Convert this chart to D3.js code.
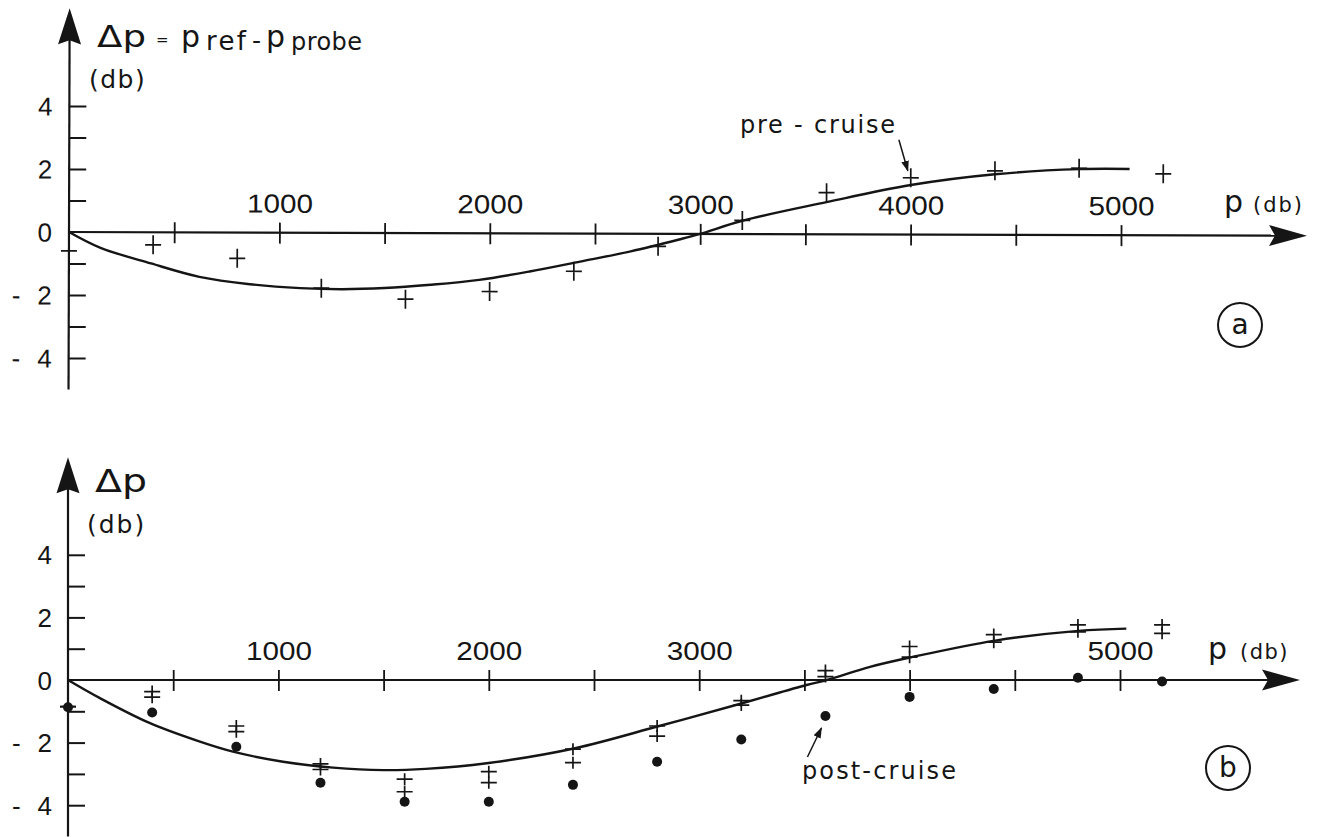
<!DOCTYPE html>
<html>
<head>
<meta charset="utf-8">
<script src="https://cdn.jsdelivr.net/npm/d3@7"></script>
<style>
  html, body { margin: 0; padding: 0; background: #ffffff; }
  svg { display: block; }
  text { font-family: "DejaVu Sans", "Liberation Sans", Arial, sans-serif; fill: #151515; }
  text.num { font-family: "Liberation Sans", Arial, Helvetica, sans-serif; }
</style>
</head>
<body>
<svg id="chart" width="1326" height="837"></svg>
<script>
// Pressure levels (db) of the comparison stations
const pressures = [0, 400, 800, 1200, 1600, 2000, 2400, 2800, 3200, 3600, 4000, 4400, 4800, 5200];

// (a) pre-cruise calibration: Δp = p_ref − p_probe (db)
const preCruise = [-0.6, -0.40, -0.82, -1.76, -2.10, -1.85, -1.20, -0.40, 0.43, 1.32, 1.80, 2.03, 2.12, 1.95];
// smooth fit drawn through (a)
const fitAPressure = [0, 150, 390, 620, 860, 1100, 1300, 1500, 1720, 1950, 2190, 2430, 2670, 2900, 3000, 3200, 3600, 4000, 4400, 4800, 5040];
const fitAValue    = [0, -0.50, -0.99, -1.41, -1.64, -1.76, -1.79, -1.75, -1.64, -1.48, -1.21, -0.89, -0.56, -0.18, 0, 0.42, 1.02, 1.57, 1.92, 2.09, 2.10];

// (b) two repeated crosses per level and the post-cruise dots
const crossUpperB = [-0.85, -0.37, -1.47, -2.68, -3.17, -2.93, -2.21, -1.47, -0.66, 0.30, 1.07, 1.45, 1.76, 1.76];
const crossLowerB = [-0.85, -0.55, -1.65, -2.86, -3.57, -3.28, -2.64, -1.79, -0.80, 0.11, 0.73, 1.21, 1.54, 1.49];
const postCruise  = [-0.87, -1.04, -2.13, -3.28, -3.89, -3.89, -3.35, -2.61, -1.90, -1.15, -0.54, -0.29, 0.07, -0.05];
// smooth fit drawn through (b)
const fitBPressure = [0, 152, 390, 627, 784, 1022, 1260, 1500, 1700, 1990, 2410, 2810, 3200, 3510, 3606, 3812, 4010, 4407, 4802, 5030];
const fitBValue    = [0, -0.58, -1.38, -1.97, -2.29, -2.61, -2.80, -2.88, -2.84, -2.66, -2.18, -1.47, -0.75, -0.16, 0, 0.42, 0.73, 1.26, 1.57, 1.64];

// Axis ticks and labels
const xTicks = [500, 1000, 1500, 2000, 2500, 3000, 3500, 4000, 4500, 5000];
const xLabelsA = [1000, 2000, 3000, 4000, 5000];
const xLabelsB = [1000, 2000, 3000, 5000];
const yTicks = [-4, -3, -2, -1, 1, 2, 3, 4];
const yLabels = [-4, -2, 0, 2, 4];

const INK = "#151515";
const svg = d3.select("#chart");

function drawPanel(cfg) {
  const g = svg.append("g").attr("transform", cfg.transform || null);
  const x = d3.scaleLinear().domain([0, 5000]).range([cfg.x0, cfg.x5000]);
  const y = d3.scaleLinear().domain([0, 4]).range([cfg.y0, cfg.y0 - 4 * cfg.unit]);
  const ox = x(0), oy = y(0);

  // vertical axis with arrow
  const tipY = y(cfg.yTop);
  g.append("line")
    .attr("x1", ox).attr("x2", ox).attr("y1", y(-5)).attr("y2", tipY + 20)
    .attr("stroke", INK).attr("stroke-width", 2.2);
  g.append("path")
    .attr("d", `M${ox},${tipY} L${ox + 11.5},${tipY + 36} L${ox},${tipY + 32} L${ox - 11.5},${tipY + 36} Z`)
    .attr("fill", INK);

  // horizontal axis with arrow
  const tipX = cfg.xTip;
  g.append("line")
    .attr("x1", ox).attr("x2", tipX - 20).attr("y1", oy).attr("y2", oy)
    .attr("stroke", INK).attr("stroke-width", 2.2);
  g.append("path")
    .attr("d", `M${tipX},${oy} L${tipX - 38},${oy - 10.5} L${tipX - 32},${oy} L${tipX - 38},${oy + 10.5} Z`)
    .attr("fill", INK);

  // y ticks (to the right of the axis)
  const yAx = g.append("g").attr("transform", `translate(${ox},0)`)
    .call(d3.axisRight(y).tickValues(yTicks).tickSize(17).tickFormat(""));
  yAx.select(".domain").remove();
  yAx.selectAll("line").attr("stroke", INK).attr("stroke-width", 2);

  // x ticks (crossing the axis)
  const xAx = g.append("g").attr("transform", `translate(0,${oy - 10})`)
    .call(d3.axisBottom(x).tickValues(xTicks).tickSize(21).tickFormat(""));
  xAx.select(".domain").remove();
  xAx.selectAll("line").attr("stroke", INK).attr("stroke-width", 1.8);

  // x tick labels
  const xLab = g.append("g").attr("transform", `translate(0,${oy})`)
    .call(d3.axisTop(x).tickValues(cfg.xLabels).tickSize(0).tickPadding(20).tickFormat(d3.format("d")));
  xLab.attr("font-size", null).attr("font-family", null);
  xLab.select(".domain").remove();
  xLab.selectAll("text")
    .attr("class", "num").attr("font-size", 26).attr("fill", INK)
    .attr("textLength", 66).attr("lengthAdjust", "spacingAndGlyphs");

  // y tick labels
  yLabels.forEach(v => {
    g.append("text").attr("class", "num").attr("x", 52).attr("y", y(v) + 9.5)
      .attr("text-anchor", "end").attr("font-size", 26).text(Math.abs(v));
    if (v < 0) {
      g.append("text").attr("class", "num").attr("x", 12).attr("y", y(v) + 9.5)
        .attr("font-size", 26).text("-");
    }
  });

  return { g, x, y };
}

function crosses(p, xs, vals, hw, hh) {
  p.g.append("g").selectAll("path").data(vals.map((v, i) => [xs[i], v]).filter(d => d[1] != null))
    .join("path")
    .attr("d", d => {
      const cx = p.x(d[0]), cy = p.y(d[1]);
      return `M${cx - hw},${cy} H${cx + hw} M${cx},${cy - hh} V${cy + hh}`;
    })
    .attr("stroke", INK).attr("stroke-width", 1.7).attr("fill", "none");
}

function fitCurve(p, ps, vs) {
  const line = d3.line().x(d => p.x(d[0])).y(d => p.y(d[1])).curve(d3.curveCatmullRom.alpha(0.5));
  p.g.append("path").datum(ps.map((q, i) => [q, vs[i]]))
    .attr("d", line).attr("fill", "none").attr("stroke", INK).attr("stroke-width", 2.4);
}

// ---------- panel (a) ----------
const A = drawPanel({ x0: 69, x5000: 1121, y0: 232, unit: 31.5, yTop: 7.1, xTip: 1307,
  xLabels: xLabelsA, transform: "rotate(0.17,69,232)" });
fitCurve(A, fitAPressure, fitAValue);
crosses(A, pressures, preCruise, 8, 9.5);

// ---------- panel (b) ----------
const B = drawPanel({ x0: 68, x5000: 1120, y0: 680, unit: 31.3, yTop: 7.12, xTip: 1300,
  xLabels: xLabelsB });
fitCurve(B, fitBPressure, fitBValue);
crosses(B, pressures, crossUpperB, 8, 6);
crosses(B, pressures, crossLowerB, 8, 6);
B.g.append("g").selectAll("circle").data(postCruise.map((v, i) => [pressures[i], v]))
  .join("circle")
  .attr("cx", d => B.x(d[0])).attr("cy", d => B.y(d[1])).attr("r", 5).attr("fill", INK);

// ---------- titles and axis names ----------
function label(x, y, size, str, len, adjust, anchor) {
  const t = svg.append("text").attr("x", x).attr("y", y).attr("font-size", size)
    .attr("text-anchor", anchor || "start").text(str);
  if (len) t.attr("textLength", len).attr("lengthAdjust", adjust || "spacing");
  return t;
}
// (a) y-axis title: Δp = p_ref − p_probe
label(97, 47, 31, "Δp", 49, "spacingAndGlyphs");
label(156, 45, 15, "=");
label(181, 47, 30, "p");
label(206, 50, 26, "ref", 40);
label(252, 49, 25, "-");
label(266, 47, 30, "p");
label(291, 50, 24, "probe", 71);
label(89, 88, 25, "(db)").attr("letter-spacing", 1.5);
// (b) y-axis title
label(95, 492, 32, "Δp", 52, "spacingAndGlyphs");
label(87, 533, 25, "(db)").attr("letter-spacing", 2);
// x-axis names
label(1224, 212, 30, "p");
label(1253, 212, 21, "(db)").attr("letter-spacing", 2);
label(1208, 659, 30, "p");
label(1240, 659, 21, "(db)").attr("letter-spacing", 1.5);

// arrowhead for annotation pointers
svg.append("defs").append("marker")
  .attr("id", "ah").attr("viewBox", "0 0 10 10").attr("refX", 9).attr("refY", 5)
  .attr("markerWidth", 11).attr("markerHeight", 11).attr("markerUnits", "userSpaceOnUse")
  .attr("orient", "auto")
  .append("path").attr("d", "M0,1.5 L10,5 L0,8.5 Z").attr("fill", INK);

// pre-cruise annotation
label(895, 133, 24, "pre - cruise", 155, "spacing", "end");
{
  const tx = A.x(4000) - 3, ty = A.y(preCruise[10]) - 7;
  A.g.append("line").attr("x1", tx - 9).attr("y1", ty - 31).attr("x2", tx).attr("y2", ty)
    .attr("stroke", INK).attr("stroke-width", 1.5).attr("marker-end", "url(#ah)");
}
// post-cruise annotation
label(802, 779, 24, "post-cruise", 154);
{
  const tx = B.x(3600) - 4, ty = B.y(postCruise[9]) + 12;
  B.g.append("line").attr("x1", tx - 14).attr("y1", ty + 29).attr("x2", tx).attr("y2", ty)
    .attr("stroke", INK).attr("stroke-width", 1.5).attr("marker-end", "url(#ah)");
}

// panel tags
[["a", 1240, 325], ["b", 1228, 768]].forEach(([s, cx, cy]) => {
  svg.append("circle").attr("cx", cx).attr("cy", cy).attr("r", 22)
    .attr("fill", "none").attr("stroke", INK).attr("stroke-width", 2);
  svg.append("text").attr("x", cx).attr("y", cy + 9).attr("text-anchor", "middle")
    .attr("font-size", 28).text(s);
});
</script>
</body>
</html>
